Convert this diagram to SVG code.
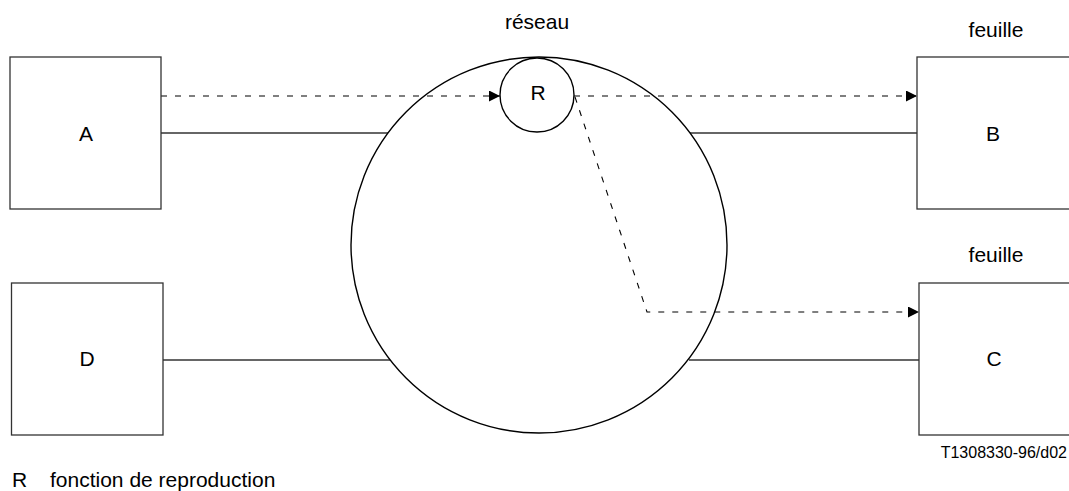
<svg xmlns="http://www.w3.org/2000/svg" width="1069" height="491" viewBox="0 0 1069 491">
<style>
.box{fill:#fff;stroke:#333;stroke-width:1.3}
.net{fill:#fff;stroke:#000;stroke-width:1.4}
.t{font-family:"Liberation Sans",Arial,sans-serif;font-size:21px;fill:#000;text-anchor:middle}
.ts{font-family:"Liberation Sans",Arial,sans-serif;font-size:16px;fill:#000;text-anchor:end}
.solid{fill:none;stroke:#333;stroke-width:1.3}
.dash{fill:none;stroke:#000;stroke-width:1.1;stroke-dasharray:6 8}
</style>
<defs>
<marker id="ah" viewBox="0 0 10 10" refX="10" refY="5" markerWidth="11" markerHeight="11" markerUnits="userSpaceOnUse" orient="auto">
<path d="M0,0 L10,5 L0,10 Z" fill="#000"/>
</marker>
</defs>
<rect width="1069" height="491" fill="#fff"/>
<g id="connectors">
<line class="solid" x1="161" y1="133" x2="390" y2="133"/>
<line class="solid" x1="689" y1="133" x2="917" y2="133"/>
<line class="solid" x1="163" y1="360" x2="391" y2="360"/>
<line class="solid" x1="689" y1="360" x2="919" y2="360"/>
</g>
<g id="network">
<circle class="net" cx="539" cy="245" r="188"/>
<text class="t" x="537" y="29">réseau</text>
</g>
<g id="connectors-dashed">
<line class="dash" x1="161" y1="96" x2="500" y2="96" marker-end="url(#ah)"/>
<line class="dash" x1="574" y1="96" x2="917" y2="96" marker-end="url(#ah)"/>
<polyline class="dash" points="575,97 647,312 919,312" marker-end="url(#ah)"/>
</g>
<g id="R">
<circle class="net" cx="537" cy="95" r="37"/>
<text class="t" x="538" y="100">R</text>
</g>
<g id="A">
<rect class="box" x="10" y="57" width="151" height="152"/>
<text class="t" x="86" y="141">A</text>
</g>
<g id="B">
<rect class="box" x="917" y="57" width="160" height="152"/>
<text class="t" x="993" y="141">B</text>
<text class="t" x="996" y="37">feuille</text>
</g>
<g id="D">
<rect class="box" x="11.5" y="283" width="151.5" height="152"/>
<text class="t" x="87" y="366">D</text>
</g>
<g id="C">
<rect class="box" x="919" y="283" width="160" height="152"/>
<text class="t" x="994" y="366">C</text>
<text class="t" x="996" y="262">feuille</text>
</g>
<g id="legend">
<text class="t" x="12" y="487" style="text-anchor:start">R</text>
<text class="t" x="50" y="487" style="text-anchor:start">fonction de reproduction</text>
<text class="ts" x="1067" y="458">T1308330-96/d02</text>
</g>
</svg>
